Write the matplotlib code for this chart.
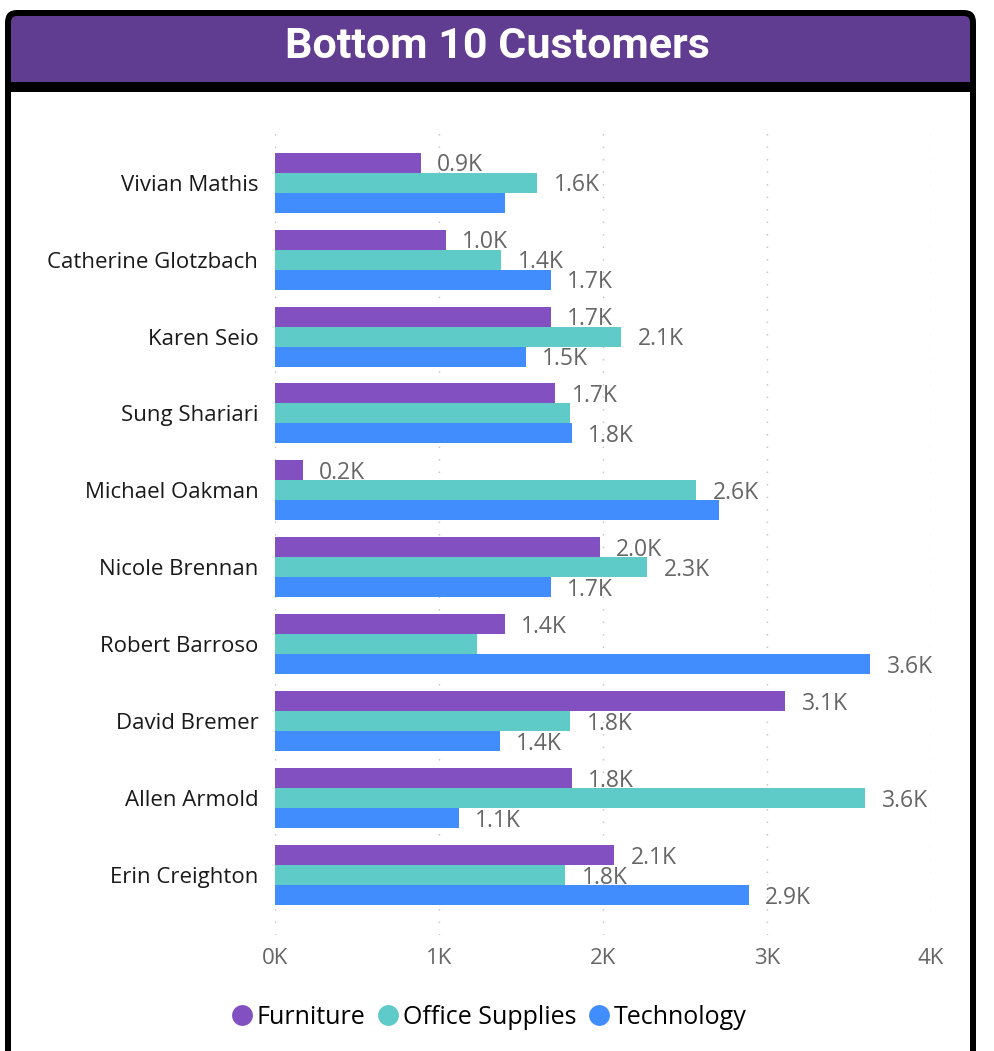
import matplotlib.pyplot as plt
from matplotlib.patches import FancyBboxPatch, Rectangle
from matplotlib.lines import Line2D

# data (sales in $)
customers = ['Vivian Mathis', 'Catherine Glotzbach', 'Karen Seio', 'Sung Shariari',
             'Michael Oakman', 'Nicole Brennan', 'Robert Barroso', 'David Bremer',
             'Allen Armold', 'Erin Creighton']
furniture = [890, 1040, 1680, 1710, 170, 1980, 1400, 3110, 1810, 2070]
office_supplies = [1600, 1380, 2110, 1800, 2570, 2270, 1230, 1800, 3600, 1770]
technology = [1400, 1680, 1530, 1810, 2710, 1680, 3630, 1370, 1120, 2890]
# which data labels Power BI kept on screen
show_furniture = [True, True, True, True, True, True, True, True, True, True]
show_office = [True, True, True, False, True, True, False, True, True, True]
show_technology = [False, True, True, True, False, True, True, True, True, True]
series_names = ['Furniture', 'Office Supplies', 'Technology']
x_ticks = [0, 1000, 2000, 3000, 4000]
x_tick_labels = ['0K', '1K', '2K', '3K', '4K']

colors = ['#8350C2', '#5ECBC8', '#428DFE']
W, H = 995, 1051
FONT = ['Open Sans', 'DejaVu Sans']
plt.rcParams['font.family'] = FONT


def px(x, y):
    return x / W, 1 - y / H


fig = plt.figure(figsize=(W / 100, H / 100), dpi=100)
fig.patch.set_facecolor('white')

# card frame
card = FancyBboxPatch(px(5, 1080), (976 - 5) / W, (1080 - 10) / H,
                      boxstyle='round,pad=0,rounding_size=0.012',
                      transform=fig.transFigure, facecolor='black', edgecolor='none', zorder=0)
fig.add_artist(card)
fig.add_artist(Rectangle(px(11, 1080), (970 - 11) / W, (1080 - 92) / H,
                         transform=fig.transFigure, facecolor='white', edgecolor='none', zorder=1))
header = FancyBboxPatch(px(11, 90), (970 - 11) / W, (90 - 16) / H,
                        boxstyle='round,pad=0,rounding_size=0.006',
                        transform=fig.transFigure, facecolor='#613D91', edgecolor='none', zorder=1)
fig.add_artist(header)
fig.add_artist(Rectangle(px(11, 92), (970 - 11) / W, 10 / H,
                         transform=fig.transFigure, facecolor='black', edgecolor='none', zorder=2))
fig.text(*px(497, 47), 'Bottom 10 Customers', color='white', fontsize=31, fontweight='bold',
         family=['Roboto', 'DejaVu Sans'], ha='center', va='center', zorder=3)

# chart
left, right, top, bottom = 275, 931, 125, 935
ax = fig.add_axes([left / W, 1 - bottom / H, (right - left) / W, (bottom - top) / H])
ax.set_zorder(5)
ax.patch.set_alpha(0)

h = 0.26
pos = list(range(len(customers)))
all_vals = [furniture, office_supplies, technology]
all_show = [show_furniture, show_office, show_technology]
for k, (vals, shows) in enumerate(zip(all_vals, all_show)):
    ys = [p + (k - 1) * h for p in pos]
    ax.barh(ys, vals, height=h, color=colors[k], label=series_names[k], zorder=3)
    for y, v, s in zip(ys, vals, shows):
        if s:
            ax.text(v + 100, y + 0.035, f'{v / 1000:.1f}K', va='center', ha='left',
                    fontsize=16.5, color='#666666', zorder=4)

ax.set_xlim(0, 4000)
ax.set_ylim(len(customers) - 1 + 0.78, -0.75)
ax.set_yticks(pos)
ax.set_yticklabels(customers, fontsize=16, color='#1a1a1a')
ax.set_xticks(x_ticks)
ax.set_xticklabels(x_tick_labels, fontsize=16, color='#666666')
ax.tick_params(length=0, axis='y', pad=12)
ax.tick_params(length=0, axis='x', pad=9)
ax.grid(axis='x', color='#c0c0c0', linestyle=(0, (1, 8)), linewidth=1)
ax.set_axisbelow(True)
for sp in ax.spines.values():
    sp.set_visible(False)

handles = [Line2D([], [], marker='o', linestyle='none', markersize=15,
                  markerfacecolor=c, markeredgecolor='none') for c in colors]
fig.legend(handles, series_names, loc='center', bbox_to_anchor=px(487, 1017), ncol=3,
           frameon=False, fontsize=18, handletextpad=0.0, columnspacing=0.3,
           handlelength=1.2)

fig.savefig('out.png', dpi=100)
